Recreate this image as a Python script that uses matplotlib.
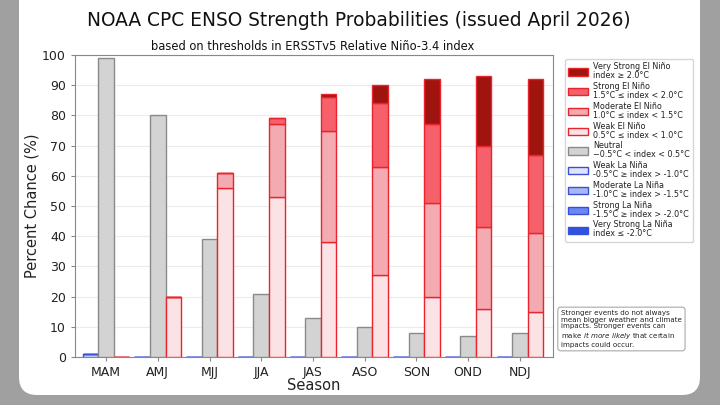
import matplotlib
matplotlib.use("Agg")
import matplotlib.pyplot as plt
from matplotlib.patches import FancyBboxPatch, Patch
import numpy as np

seasons = ["MAM", "AMJ", "MJJ", "JJA", "JAS", "ASO", "SON", "OND", "NDJ"]

# La Nina categories (weak, moderate, strong, very strong)
lanina_weak = [1, 0, 0, 0, 0, 0, 0, 0, 0]
lanina_mod = [0, 0, 0, 0, 0, 0, 0, 0, 0]
lanina_strong = [0, 0, 0, 0, 0, 0, 0, 0, 0]
lanina_vstrong = [0, 0, 0, 0, 0, 0, 0, 0, 0]
# Neutral
neutral = [99, 80, 39, 21, 13, 10, 8, 7, 8]
# El Nino categories
elnino_weak = [0, 20, 56, 53, 38, 27, 20, 16, 15]
elnino_mod = [0, 0, 5, 24, 37, 36, 31, 27, 26]
elnino_strong = [0, 0, 0, 2, 11, 21, 26, 27, 26]
elnino_vstrong = [0, 0, 0, 0, 1, 6, 15, 23, 25]

legend_labels = [
    "Very Strong El Niño\nindex ≥ 2.0°C",
    "Strong El Niño\n1.5°C ≤ index < 2.0°C",
    "Moderate El Niño\n1.0°C ≤ index < 1.5°C",
    "Weak El Niño\n0.5°C ≤ index < 1.0°C",
    "Neutral\n−0.5°C < index < 0.5°C",
    "Weak La Niña\n-0.5°C ≥ index > -1.0°C",
    "Moderate La Niña\n-1.0°C ≥ index > -1.5°C",
    "Strong La Niña\n-1.5°C ≥ index > -2.0°C",
    "Very Strong La Niña\nindex ≤ -2.0°C",
]

c_en = ["#fbe3e5", "#f4aab1", "#f5606a", "#a0140f"]
c_ln = ["#dfe4fb", "#a9b8f4", "#6b87f0", "#2f52e0"]
en_edge = "#e8252d"
ln_edge = "#3a4fd8"
neu_face = "#d3d3d3"
neu_edge = "#8a8a8a"

fig = plt.figure(figsize=(7.2, 4.05), dpi=100)
fig.patch.set_facecolor("#a0a0a0")
panel = FancyBboxPatch((19 / 720, 10 / 405), (700 - 19) / 720, 1.2,
                       boxstyle="round,pad=0,rounding_size=0.025",
                       transform=fig.transFigure, facecolor="white",
                       edgecolor="none", zorder=-5, mutation_aspect=720 / 405)
fig.patches.append(panel)

ax = fig.add_axes([75 / 720, 48 / 405, (553 - 75) / 720, (357 - 55) / 405])
ax.set_zorder(2)
ax.set_facecolor("white")

x = np.arange(len(seasons))
w = 0.3

# La Nina stack
bottom = np.zeros(len(seasons))
for vals, col in zip([lanina_weak, lanina_mod, lanina_strong, lanina_vstrong], c_ln):
    ax.bar(x - w, vals, w, bottom=bottom, color=col, edgecolor=ln_edge, linewidth=1, zorder=3)
    bottom += np.array(vals)

# Neutral
ax.bar(x, neutral, w, color=neu_face, edgecolor=neu_edge, linewidth=1, zorder=3)

# El Nino stack
bottom = np.zeros(len(seasons))
for vals, col in zip([elnino_weak, elnino_mod, elnino_strong, elnino_vstrong], c_en):
    ax.bar(x + w, vals, w, bottom=bottom, color=col, edgecolor=en_edge, linewidth=1, zorder=3)
    bottom += np.array(vals)

ax.set_xlim(-0.6, 8.64)
ax.set_ylim(0, 100)
ax.set_yticks(np.arange(0, 101, 10))
ax.set_xticks(x)
ax.set_xticklabels(seasons)
ax.tick_params(axis="both", labelsize=9, colors="#222222", length=3)
ax.tick_params(axis="both", color="#888888")
ax.grid(axis="y", color="#ececec", linewidth=0.8, zorder=0)
ax.set_axisbelow(True)
for s in ax.spines.values():
    s.set_color("#888888")
ax.set_ylabel("Percent Chance (%)", fontsize=10.5, color="#222222", labelpad=2)
ax.set_xlabel("Season", fontsize=10.5, color="#222222", labelpad=-1)

fig.text(0.5 * (87 + 631) / 720, 1 - 20 / 405,
         "NOAA CPC ENSO Strength Probabilities (issued April 2026)",
         ha="center", va="center", fontsize=13.4, color="#111111")
fig.text((150 + 476) / 2 / 720, 1 - 46 / 405,
         "based on thresholds in ERSSTv5 Relative Niño-3.4 index",
         ha="center", va="center", fontsize=8.3, color="#111111")

handles = [
    Patch(facecolor=c_en[3], edgecolor=en_edge),
    Patch(facecolor=c_en[2], edgecolor=en_edge),
    Patch(facecolor=c_en[1], edgecolor=en_edge),
    Patch(facecolor=c_en[0], edgecolor=en_edge),
    Patch(facecolor=neu_face, edgecolor=neu_edge),
    Patch(facecolor=c_ln[0], edgecolor=ln_edge),
    Patch(facecolor=c_ln[1], edgecolor=ln_edge),
    Patch(facecolor=c_ln[2], edgecolor=ln_edge),
    Patch(facecolor=c_ln[3], edgecolor=ln_edge),
]
leg = fig.legend(handles, legend_labels, loc="upper left",
                 bbox_to_anchor=(561 / 720, 1 - 55 / 405), fontsize=5.8,
                 frameon=True, handlelength=2.5, handleheight=1.0,
                 labelspacing=0.22, borderpad=0.4, handletextpad=0.6,
                 fancybox=True)
leg.set_zorder(3)
leg.get_frame().set_edgecolor("#cccccc")
for t in leg.get_texts():
    t.set_color("#222222")
    t.set_linespacing(1.0)

note = ("Stronger events do not always\n"
        "mean bigger weather and climate\n"
        "impacts. Stronger events can\n"
        "make $\\it{it\\ more\\ likely}$ that certain\n"
        "impacts could occur.")
fig.text(561 / 720, 1 - 329 / 405, note, ha="left", va="center",
         fontsize=5.1, color="#222222", linespacing=1.1, zorder=3,
         bbox=dict(boxstyle="round,pad=0.45", facecolor="white",
                   edgecolor="#aaaaaa", linewidth=0.8))

fig.savefig("out.png", dpi=100, facecolor=fig.get_facecolor())
